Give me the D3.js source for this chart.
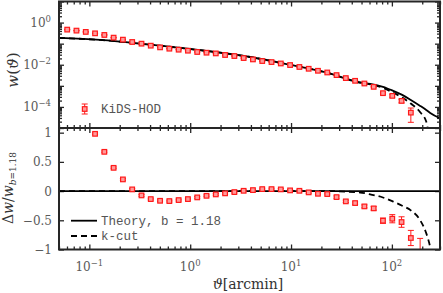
<!DOCTYPE html>
<html><head><meta charset="utf-8">
<script src="https://cdn.jsdelivr.net/npm/d3@7"></script>
<style>body{margin:0;background:#fff} svg{display:block}</style>
</head><body><svg id="c" width="443" height="293"></svg>
<script>
// ---------- data ----------
const theta = [0.0603,0.0745,0.0921,0.1139,0.1408,0.1740,0.2151,0.2659,0.3289,0.4064,
  0.5026,0.6213,0.7681,0.9495,1.174,1.451,1.794,2.218,2.742,3.389,
  4.190,5.180,6.403,7.915,9.786,12.10,14.96,18.49,22.86,28.26,
  34.93,43.18,53.39,66.00,81.58,100.9,124.7,154.2,190.5];
const wData = [0.464,0.416,0.361,0.309,0.259,0.193,0.155,0.120,0.100,0.0803,
  0.0667,0.0578,0.0518,0.0464,0.0403,0.0373,0.0345,0.0290,0.0259,0.0208,
  0.0179,0.0150,0.0134,0.0115,0.00968,0.00785,0.00645,0.00518,0.00430,0.00323,
  0.00233,0.00173,0.00129,0.000896,0.000449,0.000334,0.000193,0.0000536,null];
const wErr = [0.012,0.011,0.009,0.008,0.006,0.005,0.004,0.003,0.0025,0.002,
  0.0017,0.0014,0.0013,0.0011,0.001,0.0009,0.0008,0.0007,0.0006,0.0005,
  0.00045,0.0004,0.00035,0.0003,0.00025,0.0002,0.00017,0.00014,0.00012,0.0001,
  0.00008,0.00006,0.00005,0.000038,0.000041,0.000044,0.000037,0.000035,null];
const ratioData = [1.69,1.48,1.25,0.98,0.672,0.398,0.200,0.029,-0.074,-0.137,
  -0.166,-0.171,-0.154,-0.137,-0.108,-0.081,-0.057,-0.039,-0.017,0.005,
  0.017,0.034,0.034,0.029,0.012,0.005,-0.022,-0.046,-0.051,-0.103,
  -0.176,-0.205,-0.262,-0.296,-0.507,-0.473,-0.530,-0.803,-1.15];
const ratioErr = [0.015,0.015,0.015,0.015,0.015,0.015,0.015,0.015,0.015,0.015,
  0.015,0.015,0.015,0.015,0.015,0.015,0.015,0.015,0.015,0.015,
  0.015,0.015,0.015,0.015,0.015,0.015,0.015,0.015,0.015,0.02,
  0.02,0.02,0.025,0.03,0.045,0.07,0.09,0.13,0.34];
const thetaModel = [0.05,0.128,0.40,1.25,3.93,10.5,22.3,48.5,61,81.6,103,126.5,154,191,219,240,300];
const wTheory   = [0.187,0.150,0.0895,0.049,0.0233,0.00927,0.0043,0.00144,0.00124,0.000896,0.000578,0.000372,0.000215,0.000112,0.000072,0.000052,0.000029];
const kcutRatio = [0,0,0,0,0,0,0,-0.025,-0.056,-0.11,-0.18,-0.25,-0.33,-0.5,-0.72,-0.96,-2.0];
const xMajor = [0.1,1,10,100];
const xExp = ["\u22121","0","1","2"];
const yTopMajor = [1,1e-2,1e-4];
const yTopExp = ["0","\u22122","\u22124"];
const yBotTicks = [1,0.5,0,-0.5,-1];
const yBotLabels = ["1","0.5","0","\u22120.5","\u22121"];
const legendTop = "KiDS-HOD";
const legendBot = ["Theory, b = 1.18","k-cut"];

// ---------- layout ----------
const L=59,R=440,T=1.5,M=128,B=249.5;
const svg = d3.select("#c");
const x = d3.scaleLog().domain([0.05,300]).range([L,R]);
const yU = d3.scaleLog().domain([1e-5,10]).range([M,T]);
const yL = d3.scaleLinear().domain([-1,1.08]).range([B,M]);
const red = "#ff1a1a", axc = "#262626", lab = "#5a5a5a";

const defs = svg.append("defs");
defs.append("clipPath").attr("id","cu").append("rect").attr("x",L).attr("y",T).attr("width",R-L).attr("height",M-T);
defs.append("clipPath").attr("id","cl").append("rect").attr("x",L).attr("y",M).attr("width",R-L).attr("height",B-M);

const xMinor = [];
for (let e=-2;e<=2;e++) for (let m=2;m<=9;m++){const v=m*Math.pow(10,e); if(v>=0.05&&v<=300) xMinor.push(v);}
const yMinor = [];
for (let e=-5;e<=0;e++) for (let m=2;m<=9;m++){yMinor.push(m*Math.pow(10,e));}
const yUMajorAll = [1e-5,1e-4,1e-3,1e-2,1e-1,1,10];

function styleAxis(g){
  g.select(".domain").remove();
  g.selectAll("line").attr("stroke",axc).attr("stroke-width",1.3);
  g.selectAll("text").remove();
}
function addAxis(gen, tr){ const g=svg.append("g").attr("transform",tr).call(gen); styleAxis(g); return g; }

[[d3.axisTop, M],[d3.axisBottom, T],[d3.axisBottom, M],[d3.axisTop, B]].forEach(([f,yy])=>{
  addAxis(f(x).tickValues(xMajor).tickSize(5).tickFormat(""), `translate(0,${yy})`);
  addAxis(f(x).tickValues(xMinor).tickSize(3).tickFormat(""), `translate(0,${yy})`);
});
addAxis(d3.axisRight(yU).tickValues(yUMajorAll).tickSize(5).tickFormat(""), `translate(${L},0)`);
addAxis(d3.axisRight(yU).tickValues(yMinor).tickSize(3).tickFormat(""), `translate(${L},0)`);
addAxis(d3.axisLeft(yU).tickValues(yUMajorAll).tickSize(5).tickFormat(""), `translate(${R},0)`);
addAxis(d3.axisLeft(yU).tickValues(yMinor).tickSize(3).tickFormat(""), `translate(${R},0)`);
addAxis(d3.axisRight(yL).tickValues(yBotTicks).tickSize(5).tickFormat(""), `translate(${L},0)`);
addAxis(d3.axisLeft(yL).tickValues(yBotTicks).tickSize(5).tickFormat(""), `translate(${R},0)`);

// ---------- lines ----------
const lineU = d3.line().x(d=>x(d[0])).y(d=>yU(d[1])).curve(d3.curveMonotoneX);
const lineL = d3.line().x(d=>x(d[0])).y(d=>yL(d[1])).curve(d3.curveMonotoneX);
const gu = svg.append("g").attr("clip-path","url(#cu)");
const gl = svg.append("g").attr("clip-path","url(#cl)");

gu.append("path").attr("d", lineU(thetaModel.map((t,i)=>[t,wTheory[i]])))
  .attr("fill","none").attr("stroke","#000").attr("stroke-width",1.8);
gu.append("path").attr("d", lineU(thetaModel.map((t,i)=>[t, Math.max(wTheory[i]*(1+kcutRatio[i]),1e-8)])))
  .attr("fill","none").attr("stroke","#000").attr("stroke-width",1.8).attr("stroke-dasharray","6,4");
gl.append("path").attr("d", lineL(thetaModel.map(t=>[t,0])))
  .attr("fill","none").attr("stroke","#000").attr("stroke-width",1.8);
gl.append("path").attr("d", lineL(thetaModel.map((t,i)=>[t,kcutRatio[i]])))
  .attr("fill","none").attr("stroke","#000").attr("stroke-width",1.8).attr("stroke-dasharray","6,4");

// ---------- points ----------
function errPoint(g, px, py, lo, hi){
  g.append("line").attr("x1",px).attr("x2",px).attr("y1",lo).attr("y2",hi).attr("stroke",red).attr("stroke-width",1);
  [lo,hi].forEach(v=>g.append("line").attr("x1",px-3).attr("x2",px+3).attr("y1",v).attr("y2",v).attr("stroke",red).attr("stroke-width",1));
  g.append("rect").attr("x",px-2.3).attr("y",py-2.3).attr("width",4.6).attr("height",4.6)
    .attr("fill","#ff9a9a").attr("stroke",red).attr("stroke-width",1.2);
}
theta.forEach((t,i)=>{
  if (wData[i]!=null){
    const lo = Math.max(wData[i]-wErr[i],1e-9);
    errPoint(gu, x(t), yU(wData[i]), yU(lo), yU(wData[i]+wErr[i]));
  }
  errPoint(gl, x(t), yL(ratioData[i]), yL(ratioData[i]-ratioErr[i]), yL(ratioData[i]+ratioErr[i]));
});

// ---------- frame ----------
svg.append("rect").attr("x",L).attr("y",T).attr("width",R-L).attr("height",B-T)
  .attr("fill","none").attr("stroke",axc).attr("stroke-width",2);
svg.append("line").attr("x1",L).attr("x2",R).attr("y1",M).attr("y2",M).attr("stroke",axc).attr("stroke-width",2);

// ---------- tick labels ----------
const tf = "DejaVu Serif";
xMajor.forEach((v,i)=>{
  const t = svg.append("text").attr("x",x(v)).attr("y",271).attr("text-anchor","middle")
    .attr("font-family",tf).attr("font-size",12).attr("fill",lab);
  t.append("tspan").text("10");
  t.append("tspan").attr("dy",-5).attr("font-size",8.5).text(xExp[i]);
});
yTopMajor.forEach((v,i)=>{
  const t = svg.append("text").attr("x",51).attr("y",yU(v)+4).attr("text-anchor","end")
    .attr("font-family",tf).attr("font-size",12).attr("fill",lab);
  t.append("tspan").text("10");
  t.append("tspan").attr("dy",-5).attr("font-size",8.5).text(yTopExp[i]);
});
yBotTicks.forEach((v,i)=>{
  svg.append("text").attr("x",52).attr("y",yL(v)+4.5).attr("text-anchor","end")
    .attr("font-family",tf).attr("font-size",12).attr("fill",lab).text(yBotLabels[i]);
});

// ---------- axis titles ----------
const at = svg.append("text").attr("transform","translate(18,70) rotate(-90)").attr("text-anchor","middle")
  .attr("font-family","DejaVu Serif").attr("font-size",15).attr("fill","#333");
at.append("tspan").attr("font-style","italic").text("w");
at.append("tspan").text("(");
at.append("tspan").attr("font-style","italic").text("\u03D1");
at.append("tspan").text(")");

const ab = svg.append("text").attr("transform","translate(13,188) rotate(-90)").attr("text-anchor","middle")
  .attr("font-family","DejaVu Serif").attr("font-size",14).attr("fill","#333");
ab.append("tspan").text("\u0394");
ab.append("tspan").attr("font-style","italic").text("w");
ab.append("tspan").text("/");
ab.append("tspan").attr("font-style","italic").text("w");
ab.append("tspan").attr("dy",3).attr("font-size",9).attr("font-style","italic").text("b");
ab.append("tspan").attr("font-size",9).text("=1.18");

const xt = svg.append("text").attr("x",248).attr("y",289).attr("text-anchor","middle")
  .attr("font-family","DejaVu Serif").attr("font-size",14).attr("fill","#333");
xt.append("tspan").attr("font-style","italic").text("\u03D1");
xt.append("tspan").text("[arcmin]");

// ---------- legends ----------
const mf = "Liberation Mono";
errPoint(svg, 84.7, 109, 114, 104);
svg.append("text").attr("x",101).attr("y",113).attr("font-family",mf).attr("font-size",12.5).attr("fill","#555").text(legendTop);
svg.append("line").attr("x1",71).attr("x2",97).attr("y1",220.7).attr("y2",220.7).attr("stroke","#000").attr("stroke-width",1.8);
svg.append("line").attr("x1",71).attr("x2",97).attr("y1",236).attr("y2",236).attr("stroke","#000").attr("stroke-width",1.8).attr("stroke-dasharray","6,4");
svg.append("text").attr("x",101).attr("y",225).attr("font-family",mf).attr("font-size",12.5).attr("fill","#555").text(legendBot[0]);
svg.append("text").attr("x",101).attr("y",240).attr("font-family",mf).attr("font-size",12.5).attr("fill","#555").text(legendBot[1]);
</script></body></html>
